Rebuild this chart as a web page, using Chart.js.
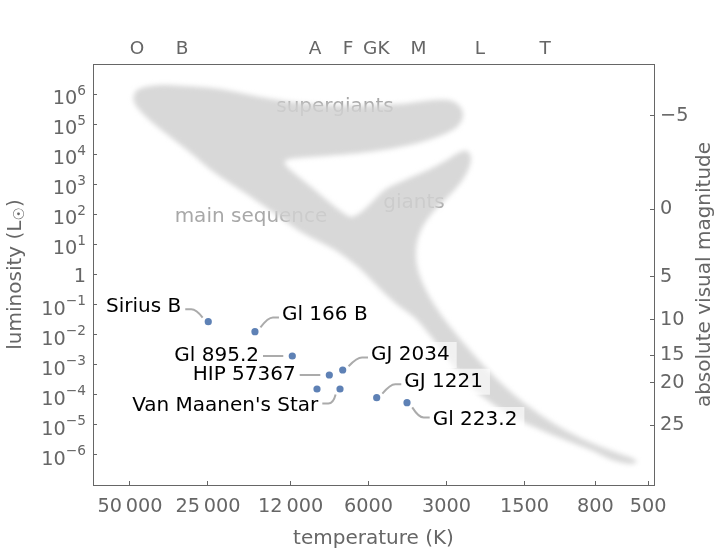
<!DOCTYPE html>
<html><head><meta charset="utf-8">
<script src="https://cdn.jsdelivr.net/npm/chart.js@4.4.1/dist/chart.umd.min.js"></script>
<style>html,body{margin:0;padding:0;background:#fff;}canvas{display:block;}</style>
</head><body>
<canvas id="c" width="720" height="550"></canvas>
<script>
// ---------------- data ----------------
const starNames = ["Sirius B","Gl 166 B","Gl 895.2","HIP 57367","GJ 2034","Van Maanen's Star","","GJ 1221","Gl 223.2"];
const starTemps = [24940,16470,11820,8506,7552,7735,9490,5584,4265];
const starLums  = [0.0269,0.01253,0.00195,4.55e-4,6.67e-4,1.556e-4,1.556e-4,8.0e-5,5.45e-5];

const tempTicks = [50000,25000,12000,6000,3000,1500,800,500];
const lumTickExps = [-6,-5,-4,-3,-2,-1,0,1,2,3,4,5,6];
const spectralClasses = ["O","B","A","F","GK","M","L","T"];
const spectralTemps = [47000,31500,9650,7200,5600,3850,2230,1250];
const magTicks = [-5,0,5,10,15,20,25];
const magTickLogL = [5.271,2.168,-0.083,-1.497,-2.677,-3.608,-5.005];

// outline of the grey star-region band (log10 T, log10 L)
const blobLogT = [4.687,4.676,4.641,4.583,4.487,4.352,4.197,4.043,3.850,3.657,3.522,3.456,3.421,3.414,3.433,3.476,3.560,3.676,3.811,3.946,4.051,4.097,4.101,4.070,4.004,3.935,3.881,3.846,3.811,3.765,3.711,3.638,3.549,3.476,3.425,3.398,3.383,3.391,3.421,3.472,3.526,3.568,3.591,3.595,3.584,3.553,3.503,3.437,3.364,3.279,3.182,3.066,2.943,2.827,2.762,2.742,2.769,2.839,2.912,3.059,3.205,3.310,3.395,3.464,3.533,3.599,3.676,3.753,3.819,3.908,4.039,4.143,4.255,4.371,4.479,4.583,4.641,4.676];
const blobLogL = [5.836,6.102,6.235,6.302,6.269,6.169,5.903,5.703,5.604,5.670,5.803,5.770,5.537,5.238,4.938,4.706,4.440,4.207,4.041,3.941,3.874,3.808,3.675,3.409,2.943,2.444,2.078,1.912,2.045,2.411,2.843,3.143,3.475,3.808,4.074,4.107,3.908,3.542,3.076,2.577,2.112,1.613,1.081,0.549,0.050,-0.582,-1.280,-2.012,-2.744,-3.508,-4.240,-4.939,-5.504,-5.903,-6.102,-6.236,-6.302,-6.169,-5.870,-5.371,-4.805,-4.240,-3.642,-2.910,-2.112,-1.447,-0.948,-0.316,0.249,0.815,1.413,2.045,2.710,3.375,4.140,4.839,5.271,5.604];

const regionNames = ["supergiants","main sequence","giants"];

// ---------------- layout / style ----------------
const regionLabelAt = [{t:3.908,l:5.57},{t:4.232,l:1.92},{t:3.603,l:2.39}];
const labelOffsets = [{dx:-27,dy:-15},{dx:27,dy:-16.7},{dx:-33.3,dy:0},{dx:-33.6,dy:0},{dx:28.3,dy:-15},{dx:-21.7,dy:17},null,{dx:27.6,dy:-16},{dx:25.7,dy:17.3}];
const GREY = '#666666';
const FONT = "'DejaVu Sans', sans-serif";
const T_MIN = 475, T_MAX = 69460, L_MIN = 1e-7, L_MAX = 1e7;

const fmtTemp = v => v >= 10000 ? Math.floor(v/1000) + '\u2009' + String(v % 1000).padStart(3,'0') : String(v);
const fmtMag = v => v < 0 ? '\u2212' + (-v) : String(v);

const blobData = blobLogT.map((t,i) => ({x: Math.pow(10,t), y: Math.pow(10, blobLogL[i])}));
const starData = starTemps.map((t,i) => ({x: t, y: starLums[i]}));

const hrPlugin = {
  id: 'hr',
  beforeDraw(chart) {
    const ctx = chart.ctx, xs = chart.scales.x, ys = chart.scales.y;
    ctx.save(); ctx.fillStyle = '#fff'; ctx.fillRect(0,0,chart.width,chart.height); ctx.restore();
    ctx.save();
    ctx.font = '20px ' + FONT; ctx.fillStyle = '#a8a8a8'; ctx.textAlign = 'center'; ctx.textBaseline = 'middle';
    regionNames.forEach((n,i) => {
      ctx.fillText(n, xs.getPixelForValue(Math.pow(10, regionLabelAt[i].t)), ys.getPixelForValue(Math.pow(10, regionLabelAt[i].l)));
    });
    ctx.restore();
    ctx.save();
    ctx.filter = 'blur(2.5px)';
  },
  beforeDatasetsDraw(chart) {
    chart.ctx.restore();
  },
  afterDatasetsDraw(chart) {
    const ctx = chart.ctx, xs = chart.scales.x, ys = chart.scales.y;
    ctx.save();
    ctx.font = '20px ' + FONT;
    starNames.forEach((name, i) => {
      const o = labelOffsets[i];
      if (!name || !o) return;
      const px = xs.getPixelForValue(starTemps[i]), py = ys.getPixelForValue(starLums[i]);
      const tx = px + o.dx, cy = py + o.dy;
      const w = ctx.measureText(name).width;
      const right = o.dx > 0;
      const left = right ? tx : tx - w;
      ctx.fillStyle = 'rgba(255,255,255,0.65)';
      ctx.fillRect(left - 4, cy - 13, w + 11, 26);
      const ax = right ? tx - 3 : tx + 4;
      const ay = o.dy === 0 ? cy : cy - 2.5 * Math.sign(o.dy);
      const s = Math.sign(px - ax);
      ctx.strokeStyle = '#ababab'; ctx.lineWidth = 2; ctx.lineCap = 'butt';
      ctx.beginPath();
      if (o.dy === 0) {
        ctx.moveTo(ax, ay); ctx.lineTo(px - s * 9, ay);
      } else {
        const hx = ax + s * 6;
        const ddx = hx - px, ddy = ay - py, len = Math.hypot(ddx, ddy);
        const ex = px + ddx / len * 7, ey = py + ddy / len * 7;
        ctx.moveTo(ax, ay); ctx.lineTo(hx, ay);
        ctx.quadraticCurveTo(hx + s * 5, ay, ex, ey);
      }
      ctx.stroke();
      ctx.fillStyle = '#000'; ctx.textBaseline = 'middle'; ctx.textAlign = 'left';
      ctx.fillText(name, left, cy);
    });
    ctx.restore();
  },
  afterDraw(chart) {
    const ctx = chart.ctx, ys = chart.scales.y, area = chart.chartArea;
    ctx.save();
    ctx.fillStyle = GREY; ctx.textAlign = 'left'; ctx.textBaseline = 'alphabetic';
    const rightEdge = area.left - 7;
    lumTickExps.forEach(e => {
      const y = ys.getPixelForValue(Math.pow(10, e));
      if (e === 0) {
        ctx.font = '19.3px ' + FONT;
        const w = ctx.measureText('1').width;
        ctx.fillText('1', rightEdge - w, y + 7);
        return;
      }
      const sup = e < 0 ? '\u2212' + (-e) : String(e);
      ctx.font = '13.7px ' + FONT; const sw = ctx.measureText(sup).width;
      ctx.font = '19.3px ' + FONT; const bw = ctx.measureText('10').width;
      ctx.fillText('10', rightEdge - sw - bw, y + 10);
      ctx.font = '13.7px ' + FONT;
      ctx.fillText(sup, rightEdge - sw, y + 0.5);
    });
    const cx = (area.left + area.right) / 2, cyy = (area.top + area.bottom) / 2;
    ctx.font = '20px ' + FONT; ctx.textAlign = 'center';
    ctx.fillText('temperature (K)', cx, 544);
    ctx.save(); ctx.translate(20.5, cyy); ctx.rotate(-Math.PI/2);
    ctx.textAlign = 'left';
    const p1 = 'luminosity (L', p2 = '\u2609', p3 = ')';
    ctx.font = '20px ' + FONT; const w1 = ctx.measureText(p1).width, w3 = ctx.measureText(p3).width;
    ctx.font = '15px ' + FONT; const w2 = ctx.measureText(p2).width;
    let x0 = -(w1 + w2 + w3) / 2;
    ctx.font = '20px ' + FONT; ctx.fillText(p1, x0, 0);
    ctx.font = '15px ' + FONT; ctx.fillText(p2, x0 + w1, 3);
    ctx.font = '20px ' + FONT; ctx.fillText(p3, x0 + w1 + w2, 0);
    ctx.restore();
    ctx.save(); ctx.translate(710, cyy); ctx.rotate(-Math.PI/2); ctx.textAlign = 'center';
    ctx.fillText('absolute visual magnitude', 0, 0); ctx.restore();
    ctx.restore();
  }
};

const axisGrid = {display:true, drawOnChartArea:false, drawTicks:true, tickLength:-4, color:GREY, lineWidth:1, z:1};
const axisBorder = {display:true, color:GREY, width:1, z:1};

new Chart(document.getElementById('c'), {
  type: 'scatter',
  data: {
    datasets: [
      { type:'line', label:'regions', data: blobData, fill:'shape', backgroundColor:'rgba(210,210,210,0.86)',
        borderColor:'rgba(0,0,0,0)', borderWidth:0, pointRadius:0, pointHitRadius:0, tension:0.3, order:2 },
      { type:'scatter', label:'stars', data: starData, backgroundColor:'#5E81B5', pointBackgroundColor:'#5E81B5',
        pointRadius:3.6, borderWidth:0, pointBorderWidth:0, order:1 }
    ]
  },
  options: {
    responsive:false, animation:false, devicePixelRatio:1,
    layout:{padding:0},
    events: [],
    plugins:{ legend:{display:false}, tooltip:{enabled:false}, filler:{drawTime:'beforeDatasetsDraw', propagate:false} },
    scales: {
      x: { type:'logarithmic', position:'bottom', reverse:true, min:T_MIN, max:T_MAX,
           afterBuildTicks: s => { s.ticks = tempTicks.map(v => ({value:v})); },
           afterFit: s => { s.height = 65; },
           ticks:{ autoSkip:false, maxRotation:0, minRotation:0, padding:14, color:GREY, font:{family:FONT, size:19.3}, z:1,
                   callback:(v,i) => fmtTemp(tempTicks[i]) },
           grid: axisGrid, border: axisBorder },
      x2: { type:'logarithmic', position:'top', reverse:true, min:T_MIN, max:T_MAX,
           afterBuildTicks: s => { s.ticks = spectralTemps.map(v => ({value:v})); },
           afterFit: s => { s.height = 64; },
           ticks:{ autoSkip:false, maxRotation:0, minRotation:0, padding:4, color:GREY, font:{family:FONT, size:18.5}, z:1,
                   callback:(v,i) => spectralClasses[i] },
           grid:{display:false, drawTicks:false}, border: axisBorder },
      y: { type:'logarithmic', position:'left', min:L_MIN, max:L_MAX,
           afterBuildTicks: s => { s.ticks = lumTickExps.map(e => ({value:Math.pow(10,e)})); },
           afterFit: s => { s.width = 93; },
           ticks:{ display:false, autoSkip:false },
           grid: axisGrid, border: axisBorder },
      y2: { type:'logarithmic', position:'right', min:L_MIN, max:L_MAX,
           afterBuildTicks: s => { s.ticks = magTickLogL.map(v => ({value:Math.pow(10,v)})); },
           afterFit: s => { s.width = 66; },
           ticks:{ autoSkip:false, padding:10, color:GREY, font:{family:FONT, size:19.3}, z:1,
                   callback:(v,i) => fmtMag(magTicks[i]) },
           grid: axisGrid, border: axisBorder }
    }
  },
  plugins: [hrPlugin]
});
</script>
</body></html>
